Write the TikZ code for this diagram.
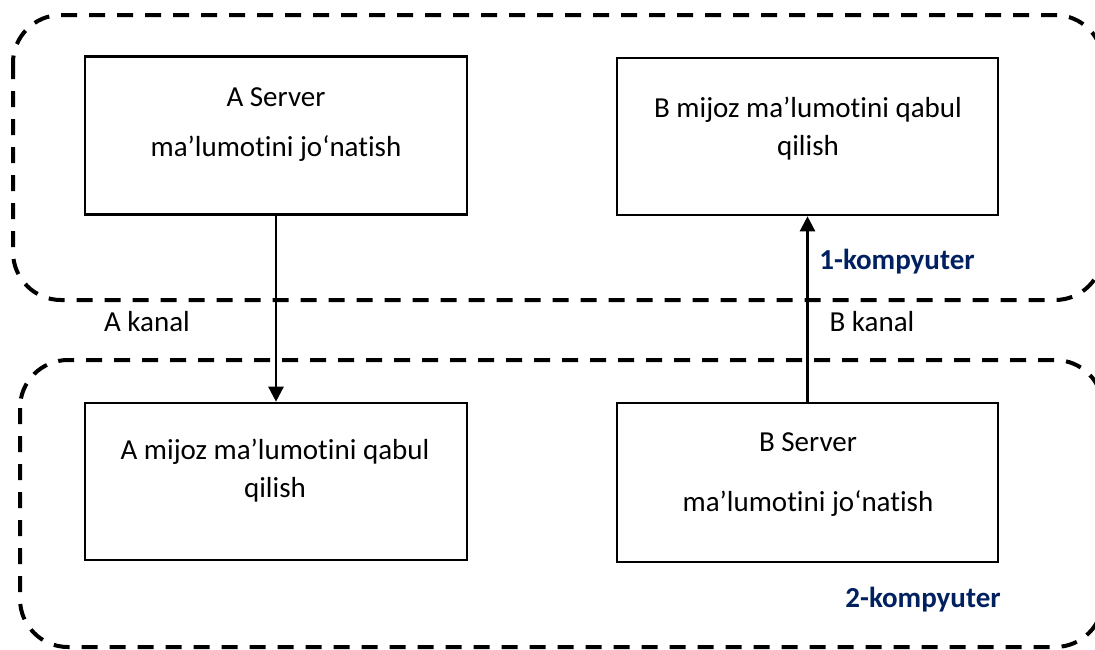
\documentclass[tikz,border=0pt]{standalone}
\usepackage{fontspec}
\setmainfont{Carlito}[RawFeature={-liga;-clig;-dlig}]
\usetikzlibrary{arrows.meta}
\definecolor{navy}{RGB}{0,32,96}
\newcommand{\tI}{t\kern0pt i}
\begin{document}
\begin{tikzpicture}[x=1pt,y=-1pt,
  box/.style={draw=black,line width=2.6pt,rectangle,inner sep=0pt},
  grp/.style={draw=black,line width=4pt,dash pattern=on 16pt off 12pt,rounded corners=48pt},
  txt/.style={anchor=base,inner sep=0pt,font=\fontsize{29}{35}\selectfont},
  ctxt/.style={txt,font=\fontsize{29}{35}\selectfont\bfseries,text=navy},
  conn/.style={line width=2.4pt,-{Triangle[width=15pt,length=15pt]}}]
\useasboundingbox (0,0) rectangle (1095,649);
\clip (0,0) rectangle (1095,649);
% group boxes
\draw[grp] (13,15) rectangle (1103,300);
\draw[grp] (20,360) rectangle (1103,647);
% boxes
\node[box,minimum width=382pt,minimum height=158pt] (as) at (276,135.5) {};
\node[box,minimum width=381pt,minimum height=157pt] (bm) at (807.5,136.5) {};
\node[box,minimum width=382pt,minimum height=157pt] (am) at (276,481.5) {};
\node[box,minimum width=381pt,minimum height=159pt] (bs) at (807.5,482.5) {};
% texts
\node[txt] (as1) at (276,106) {A Server};
\node[txt] (as2) at (276,156) {ma’lumo\tI ni jo‘na\tI sh};
\node[txt] (bm1) at (808,117) {B mijoz ma’lumo\tI ni qabul};
\node[txt] (bm2) at (808,155) {qilish};
\node[txt] (am1) at (275,459) {A mijoz ma’lumo\tI ni qabul};
\node[txt] (am2) at (275,497) {qilish};
\node[txt] (bs1) at (808,451) {B Server};
\node[txt] (bs2) at (808,511) {ma’lumo\tI ni jo‘na\tI sh};
\node[txt] (ak) at (147,331) {A kanal};
\node[txt] (bk) at (872,331) {B kanal};
\node[ctxt] (k1) at (897,269) {1-kompyuter};
\node[ctxt] (k2) at (923,607) {2-kompyuter};
% connectors
\draw[conn] (as.south) -- (am.north);
\draw[conn] (bs.north) -- (bm.south);
\end{tikzpicture}
\end{document}
